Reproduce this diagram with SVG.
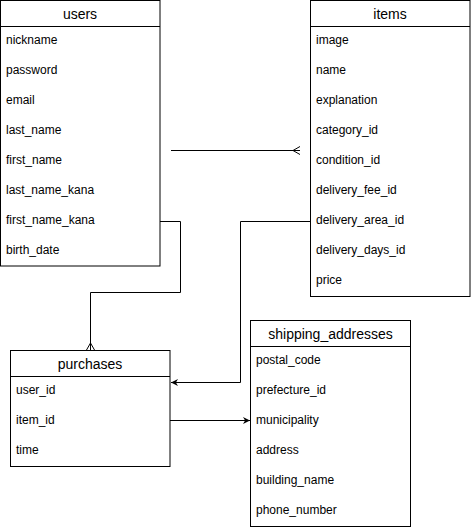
<svg xmlns="http://www.w3.org/2000/svg" width="471" height="530" viewBox="0 0 471 530">
<defs>
<style>
.box{fill:#fff;stroke:#000;stroke-width:1}
.hd{stroke:#000;stroke-width:1}
.t{font-family:"Liberation Sans",Arial,sans-serif;font-size:14px;fill:#000;text-anchor:middle}
.r{font-family:"Liberation Sans",Arial,sans-serif;font-size:12px;fill:#000}
.c{fill:none;stroke:#000;stroke-width:1}
</style>
<marker id="arr" viewBox="0 0 10 10" refX="10" refY="5" markerWidth="7" markerHeight="7" markerUnits="userSpaceOnUse" orient="auto">
<path d="M0,0 L10,5 L0,10 L3,5 Z" fill="#000"/>
</marker>
</defs>
<rect width="471" height="530" fill="#fff"/>
<g id="connectors">
<path class="c" d="M171,150.5 H300"/>
<path class="c" d="M293,150.5 L300,146.5 M293,150.5 L300,154.5"/>
<path class="c" d="M160,221.5 H180.5 V292.5 H90.5 V350"/>
<path class="c" d="M90.5,343 L86.5,350 M90.5,343 L94.5,350"/>
<path class="c" d="M311,221.5 H240.5 V382.5 H171" marker-end="url(#arr)"/>
<path class="c" d="M170,420.5 H250" marker-end="url(#arr)"/>
</g>
<g id="users">
<rect class="box" x="0.5" y="0.5" width="159.5" height="265.5"/>
<line class="hd" x1="0.5" y1="26.5" x2="160" y2="26.5"/>
<text class="t" x="80" y="19">users</text>
<text class="r" x="6" y="44">nickname</text>
<text class="r" x="6" y="74">password</text>
<text class="r" x="6" y="104">email</text>
<text class="r" x="6" y="134">last_name</text>
<text class="r" x="6" y="164">first_name</text>
<text class="r" x="6" y="194">last_name_kana</text>
<text class="r" x="6" y="224">first_name_kana</text>
<text class="r" x="6" y="254">birth_date</text>
</g>
<g id="items">
<rect class="box" x="310.5" y="0.5" width="159.5" height="296"/>
<line class="hd" x1="310.5" y1="26.5" x2="470" y2="26.5"/>
<text class="t" x="390" y="19">items</text>
<text class="r" x="316" y="44">image</text>
<text class="r" x="316" y="74">name</text>
<text class="r" x="316" y="104">explanation</text>
<text class="r" x="316" y="134">category_id</text>
<text class="r" x="316" y="164">condition_id</text>
<text class="r" x="316" y="194">delivery_fee_id</text>
<text class="r" x="316" y="224">delivery_area_id</text>
<text class="r" x="316" y="254">delivery_days_id</text>
<text class="r" x="316" y="284">price</text>
</g>
<g id="purchases">
<rect class="box" x="10.5" y="350.5" width="159.5" height="116"/>
<line class="hd" x1="10.5" y1="376.5" x2="170" y2="376.5"/>
<text class="t" x="90" y="369">purchases</text>
<text class="r" x="16" y="394">user_id</text>
<text class="r" x="16" y="424">item_id</text>
<text class="r" x="16" y="454">time</text>
</g>
<g id="shipping_addresses">
<rect class="box" x="250.5" y="320.5" width="160" height="206"/>
<line class="hd" x1="250.5" y1="346.5" x2="410.5" y2="346.5"/>
<text class="t" x="330.5" y="339">shipping_addresses</text>
<text class="r" x="256" y="364">postal_code</text>
<text class="r" x="256" y="394">prefecture_id</text>
<text class="r" x="256" y="424">municipality</text>
<text class="r" x="256" y="454">address</text>
<text class="r" x="256" y="484">building_name</text>
<text class="r" x="256" y="514">phone_number</text>
</g>
</svg>
